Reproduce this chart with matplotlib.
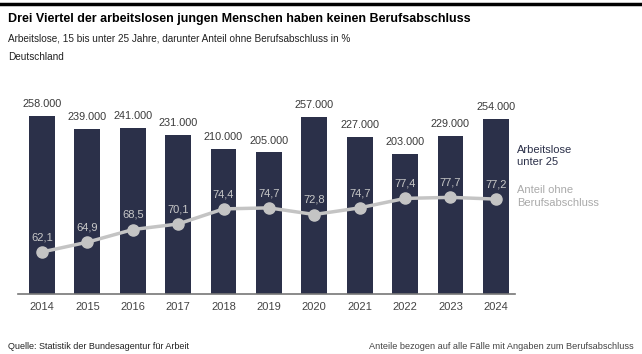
import matplotlib.pyplot as plt
from matplotlib.lines import Line2D

years = ["2014", "2015", "2016", "2017", "2018", "2019", "2020", "2021", "2022", "2023", "2024"]
arbeitslose = [258000, 239000, 241000, 231000, 210000, 205000, 257000, 227000, 203000, 229000, 254000]
anteil = [62.1, 64.9, 68.5, 70.1, 74.4, 74.7, 72.8, 74.7, 77.4, 77.7, 77.2]

bar_col = "#2b3049"
line_col = "#c4c4c4"

plt.rcParams['font.family'] = ['Liberation Sans', 'DejaVu Sans']

fig = plt.figure(figsize=(6.42, 3.54), dpi=100)
ax = fig.add_axes([0.028, 0.1695, 0.774, 0.548])
x = list(range(len(years)))
ax.bar(x, arbeitslose, width=0.57, color=bar_col, zorder=2)
for xi, v in zip(x, arbeitslose):
    lab = "{:,}".format(v).replace(",", ".")
    ax.annotate(lab, (xi, v), xytext=(0, 5), textcoords="offset points",
                ha="center", va="bottom", fontsize=7.8, color="#3a3a3a")
ax.set_xlim(-0.53, 10.42)
ax.set_ylim(0, 281000)
ax.set_xticks(x)
ax.set_xticklabels(years, fontsize=8, color="#444444")
ax.tick_params(axis="x", length=0, pad=6)
ax.set_yticks([])
for s in ["top", "right", "left"]:
    ax.spines[s].set_visible(False)
ax.spines["bottom"].set_color("#777777")
ax.spines["bottom"].set_linewidth(1.2)

ax2 = ax.twinx()
ax2.plot(x, anteil, color=line_col, lw=2.5, marker="o", ms=8, zorder=3)
for xi, v in zip(x, anteil):
    ax2.annotate(str(v).replace(".", ","), (xi, v), xytext=(0, 7), textcoords="offset points",
                 ha="center", va="bottom", fontsize=8, color="#c8c8c8")
ax2.set_ylim(50.1, 105.5)
ax2.set_yticks([])
for s in ["top", "right", "left", "bottom"]:
    ax2.spines[s].set_visible(False)

fig.text(0.806, 0.56, "Arbeitslose\nunter 25", fontsize=8, color=bar_col, va="center", linespacing=1.3)
fig.text(0.806, 0.445, "Anteil ohne\nBerufsabschluss", fontsize=8, color="#aaaaaa", va="center", linespacing=1.3)

fig.add_artist(Line2D([0, 0.997], [0.99, 0.99], color="black", lw=2.5, transform=fig.transFigure))
fig.text(0.0125, 0.947, "Drei Viertel der arbeitslosen jungen Menschen haben keinen Berufsabschluss",
         fontsize=9, fontweight="bold", color="black", va="center")
fig.text(0.0125, 0.891, "Arbeitslose, 15 bis unter 25 Jahre, darunter Anteil ohne Berufsabschluss in %",
         fontsize=7.2, color="#222222", va="center")
fig.text(0.0125, 0.838, "Deutschland", fontsize=7.2, color="#222222", va="center")
fig.text(0.0125, 0.02, "Quelle: Statistik der Bundesagentur für Arbeit", fontsize=6.5, color="#222222", va="center")
fig.text(0.987, 0.02, "Anteile bezogen auf alle Fälle mit Angaben zum Berufsabschluss", fontsize=6.6,
         color="#444444", va="center", ha="right")

fig.savefig("out.png", dpi=100)
